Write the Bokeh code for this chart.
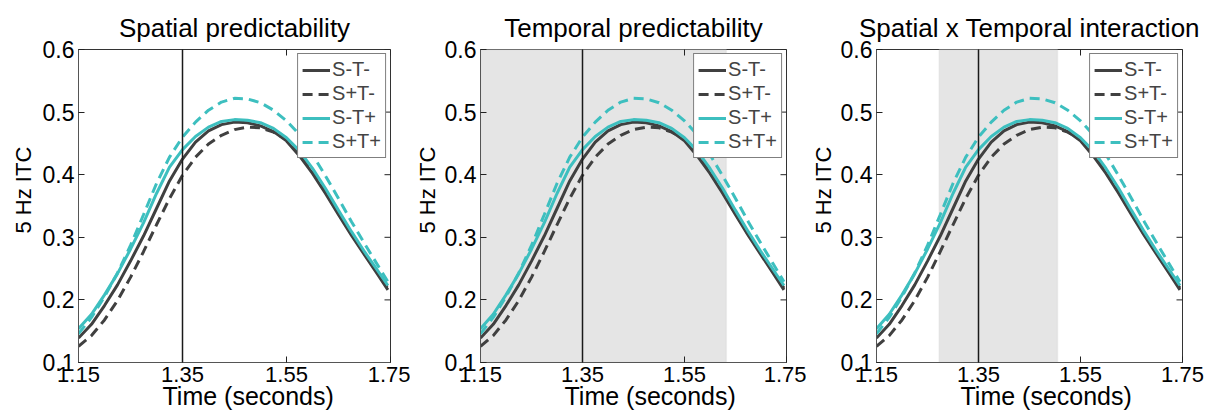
import math
from bokeh.plotting import figure
from bokeh.models import BoxAnnotation, Span, Legend, LegendItem, FixedTicker, Range1d, Title
from bokeh.layouts import row
from bokeh.embed import file_html
from bokeh.resources import INLINE

# ---- data ----
time_s = [1.15, 1.175, 1.2, 1.225, 1.25, 1.275, 1.3, 1.325, 1.35, 1.375, 1.4, 1.425,
          1.45, 1.475, 1.5, 1.525, 1.55, 1.575, 1.6, 1.625, 1.65, 1.675, 1.7, 1.725, 1.745]
itc_sm_tm = [0.139, 0.161, 0.191, 0.224, 0.262, 0.302, 0.346, 0.390, 0.425, 0.452, 0.470, 0.480,
             0.484, 0.483, 0.478, 0.469, 0.454, 0.430, 0.402, 0.370, 0.336, 0.303, 0.272, 0.241, 0.216]
itc_sp_tm = [0.126, 0.143, 0.168, 0.199, 0.236, 0.277, 0.320, 0.362, 0.399, 0.428, 0.449, 0.463,
             0.472, 0.476, 0.475, 0.468, 0.456, 0.432, 0.404, 0.372, 0.338, 0.305, 0.274, 0.243, 0.219]
itc_sm_tp = [0.154, 0.177, 0.208, 0.242, 0.281, 0.323, 0.370, 0.412, 0.440, 0.461, 0.476, 0.485,
             0.488, 0.487, 0.483, 0.474, 0.459, 0.438, 0.410, 0.378, 0.343, 0.309, 0.277, 0.247, 0.223]
itc_sp_tp = [0.146, 0.172, 0.205, 0.243, 0.287, 0.336, 0.386, 0.428, 0.460, 0.484, 0.503, 0.516,
             0.522, 0.521, 0.515, 0.503, 0.486, 0.464, 0.432, 0.398, 0.362, 0.325, 0.290, 0.256, 0.229]

series_names = ["S-T-", "S+T-", "S-T+", "S+T+"]
series_values = [itc_sm_tm, itc_sp_tm, itc_sm_tp, itc_sp_tp]

panel_titles = ["Spatial predictability", "Temporal predictability", "Spatial x Temporal interaction"]
shaded_windows = [None, (1.15, 1.632), (1.273, 1.505)]
cue_time = 1.35
x_min, x_max = 1.15, 1.75
y_min, y_max = 0.1, 0.6
x_ticks = [1.15, 1.35, 1.55, 1.75]
y_ticks = [0.1, 0.2, 0.3, 0.4, 0.5, 0.6]
x_label = "Time (seconds)"
y_label = "5 Hz ITC"

# ---- styles / layout ----
DARK = "#404040"
CYAN = "#3dbfbf"
styles = [(DARK, "solid"), (DARK, "10 6"), (CYAN, "solid"), (CYAN, "10 6")]
FONT = "Liberation Sans"
borders = [(78, 20, 8), (64, 20, 4), (64, 22, 4)]   # (left, right, y-title standoff) per panel
FRAME_W, FRAME_H, TOP, BOTTOM = 312, 313, 49, 48


def make_panel(title, window, left, right, ystand):
    p = figure(width=left + FRAME_W + right, height=TOP + FRAME_H + BOTTOM,
               x_range=Range1d(x_min, x_max), y_range=Range1d(y_min, y_max),
               output_backend="svg", toolbar_location=None,
               min_border_left=left, min_border_right=right,
               min_border_top=TOP, min_border_bottom=BOTTOM)
    p.grid.visible = False
    p.background_fill_color = "white"
    p.outline_line_color = "#333333"
    p.outline_line_width = 1

    p.title.text = title
    p.title.text_font = FONT
    p.title.text_font_size = "26px"
    p.title.text_font_style = "normal"
    p.title.align = "center"
    p.title.text_color = "black"
    p.title.standoff = 14

    if window is not None:
        p.add_layout(BoxAnnotation(left=window[0], right=window[1], fill_color="#e5e5e5",
                                   fill_alpha=1.0, line_color="#d2d2d2", line_width=1.5,
                                   level="underlay"))

    p.add_layout(Span(location=cue_time, dimension="height", line_color="#1a1a1a", line_width=1.5))

    # inward tick marks on the top and right edges (half of each dash is clipped by the frame)
    p.scatter(x=x_ticks, y=[y_max] * len(x_ticks), marker="dash", size=12, angle=math.pi / 2,
              line_color="#222222", line_width=1)
    p.scatter(x=[x_max] * len(y_ticks), y=y_ticks, marker="dash", size=12,
              line_color="#222222", line_width=1)

    items = []
    for name, vals, (col, dash) in zip(series_names, series_values, styles):
        r = p.line(time_s, vals, line_color=col, line_width=3, line_dash=dash)
        items.append(LegendItem(label=name, renderers=[r]))

    leg = Legend(items=items, location="top_right")
    leg.label_text_font = FONT
    leg.label_text_font_size = "20px"
    leg.label_height = 20
    leg.glyph_height = 20
    leg.glyph_width = 28
    leg.spacing = 1
    leg.padding = 4
    leg.margin = 4
    leg.label_standoff = 2
    leg.border_line_color = "black"
    leg.border_line_width = 1
    leg.background_fill_alpha = 1.0
    p.add_layout(leg)

    for ax in (p.xaxis[0], p.yaxis[0]):
        ax.major_tick_in = 6
        ax.major_tick_out = 0
        ax.minor_tick_line_color = None
        ax.major_label_text_font = FONT
        ax.major_label_text_color = "black"
        ax.axis_line_color = "#555555"
        ax.major_tick_line_color = "#222222"
    p.xaxis[0].ticker = FixedTicker(ticks=x_ticks)
    p.yaxis[0].ticker = FixedTicker(ticks=y_ticks)
    p.xaxis[0].major_label_text_font_size = "22px"
    p.yaxis[0].major_label_text_font_size = "23px"
    p.xaxis[0].major_label_standoff = 4
    p.yaxis[0].major_label_standoff = 4

    # axis titles placed in the side panels (offset like in the reference)
    p.add_layout(Title(text=x_label, align="left", offset=84, standoff=-9,
                       text_font=FONT, text_font_size="25px", text_font_style="normal",
                       text_color="black"), "below")
    p.add_layout(Title(text=y_label, align="left", offset=129, standoff=ystand,
                       text_font=FONT, text_font_size="22px", text_font_style="normal",
                       text_color="black"), "left")
    return p


panels = [make_panel(t, w, l, r, s) for t, w, (l, r, s) in zip(panel_titles, shaded_windows, borders)]
layout = row(*panels, spacing=0)

open("out.html", "w").write(file_html(layout, INLINE))
